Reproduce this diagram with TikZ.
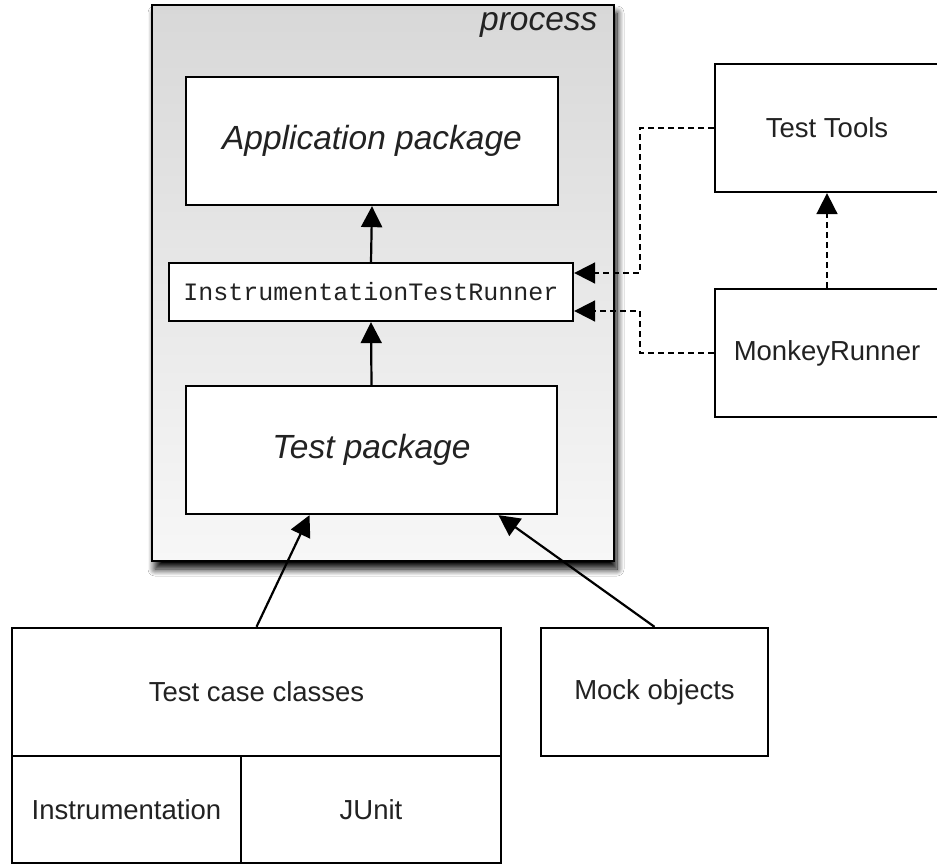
\documentclass[tikz,border=0pt]{standalone}
\usepackage{fontspec}
\setmainfont{Liberation Sans}
\setmonofont{Liberation Mono}
\usepackage{tikz}
\usetikzlibrary{arrows.meta,positioning,shadows.blur}
\definecolor{ProcTop}{HTML}{D8D8D8}
\definecolor{ProcBottom}{HTML}{F7F7F7}
\definecolor{BoxInk}{HTML}{222222}

\begin{document}
\begin{tikzpicture}[x=1pt,y=-1pt,>=Triangle]
\tikzset{
  big/.style={font=\itshape\fontsize{33.5}{38}\selectfont,text=BoxInk},
  small/.style={font=\fontsize{27.5}{31}\selectfont,text=BoxInk},
  box/.style={draw=black,line width=2.3pt,fill=white,inner sep=0pt,align=center},
  procbox/.style={draw=black,line width=2.3pt,top color=ProcTop,bottom color=ProcBottom,inner sep=0pt,
    blur shadow={shadow xshift=3pt,shadow yshift=-8pt,shadow blur radius=7pt,shadow opacity=100,shadow blur steps=12}},
  arr/.style={line width=2.2pt,-{Triangle[length=21pt,width=21pt]}},
  dasharr/.style={line width=1.8pt,dash pattern=on 6pt off 4pt,-{Triangle[length=21pt,width=21pt]}}
}
\useasboundingbox[fill=white] (0,0) rectangle (937,867);

\node[procbox,minimum width=462pt,minimum height=556pt] (proc) at (383,283) {};
\node[big,anchor=east] (proclabel) at (601,25) {process};

\node[box,big,minimum width=372pt,minimum height=128pt] (app) at (372,141) {Application package};
\node[box,minimum width=404pt,minimum height=58pt,font=\ttfamily\fontsize{25}{28}\selectfont,text=BoxInk] (runner) at (371,292) {InstrumentationTestRunner};
\node[box,big,minimum width=371pt,minimum height=128pt] (test) at (371.5,450) {Test package};

\node[box,small,minimum width=224pt,minimum height=128pt] (tools) at (827,128) {Test Tools};
\node[box,small,minimum width=224pt,minimum height=128pt] (monkey) at (827,353) {MonkeyRunner};

\node[box,small,minimum width=489pt,minimum height=128pt] (cases) at (256.5,692) {Test case classes};
\node[box,small,minimum width=229pt,minimum height=107pt] (instr) at (126.5,809.5) {Instrumentation};
\node[box,small,minimum width=260pt,minimum height=107pt] (junit) at (371,809.5) {JUnit};
\node[box,small,minimum width=227pt,minimum height=128pt] (mock) at (654.5,692) {Mock objects};

\draw[arr] (runner.north) -- (app.south);
\draw[arr] (test.north) -- (runner.south);
\draw[arr] (cases.north) -- ([xshift=-62pt]test.south);
\draw[arr] (mock.north) -- ([xshift=127pt]test.south);

\draw[dasharr] (tools.west) -- ++(-74,0) |- ([yshift=19pt]runner.east);
\draw[dasharr] (monkey.west) -- ++(-74,0) |- ([yshift=-19pt]runner.east);
\draw[dasharr] (monkey.north) -- (tools.south);
\end{tikzpicture}
\end{document}
